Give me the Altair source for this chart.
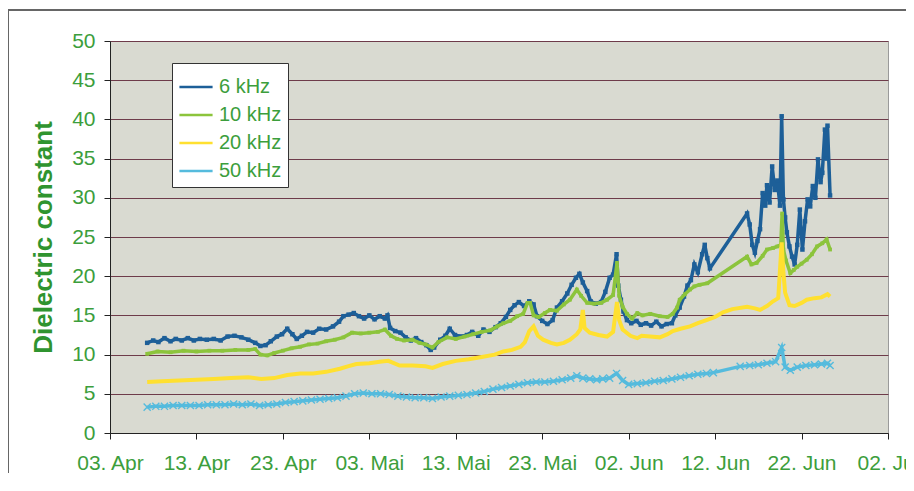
import altair as alt
import pandas as pd

# ---- data (x = days after 03. Apr) ----
series_names = ["6 kHz", "10 kHz", "20 kHz", "50 kHz"]
series_colors = ["#1d5f98", "#8cc43c", "#ffe030", "#55bbdd"]

x_tick_days = [0, 10, 20, 30, 40, 50, 60, 70, 80, 90]
x_tick_labels = ["03. Apr", "13. Apr", "23. Apr", "03. Mai", "13. Mai",
                 "23. Mai", "02. Jun", "12. Jun", "22. Jun", "02. Jul"]
y_ticks = [0, 5, 10, 15, 20, 25, 30, 35, 40, 45, 50]

days_6k = [4.3, 5.0, 5.6, 6.3, 7.0, 7.6, 8.3, 9.0, 9.7, 10.4, 11.2, 12.0, 12.8, 13.6, 14.4,
           15.2, 16.0, 16.8, 17.4, 18.0, 18.6, 19.3, 19.9, 20.5, 21.1, 21.6, 22.2, 22.8,
           23.5, 24.2, 25.0, 25.8, 26.5, 27.0, 27.6, 28.2, 28.8, 29.4, 30.0, 30.6, 31.2,
           31.8, 32.1, 32.4, 33.0, 33.6, 34.2, 34.8, 35.4, 36.0, 36.6, 37.1, 37.5, 38.2,
           38.8, 39.3, 39.9, 40.6, 41.3, 41.9, 42.6, 43.2, 43.9, 44.6, 45.2, 45.8, 46.3,
           46.8, 47.3, 47.9, 48.5, 49.0, 49.4, 50.0, 50.6, 51.2, 51.7, 52.3, 52.9, 53.4,
           53.9, 54.3, 54.7, 55.2, 55.6, 56.2, 56.8, 57.3, 57.8, 58.2, 58.6, 58.8, 59.1,
           59.4, 59.8, 60.3, 60.9, 61.4, 62.0, 62.6, 63.2, 63.8, 64.4, 65.0, 65.4, 65.9,
           66.4, 66.8, 67.2, 67.6, 68.0, 68.5, 68.8, 69.1, 69.4, 73.7, 74.0, 74.3, 74.6,
           74.9, 75.2, 75.5, 75.8, 76.0, 76.3, 76.6, 76.9, 77.2, 77.5, 77.7, 77.9, 78.1,
           78.3, 78.6, 78.9, 79.2, 79.5, 79.8, 80.1, 80.4, 80.7, 81.0, 81.3, 81.6, 81.9,
           82.2, 82.4, 82.7, 82.9, 83.0, 83.3]
vals_6k = [11.5, 11.8, 11.6, 12.1, 11.7, 12.0, 11.8, 12.1, 11.8, 12.0, 11.9, 12.0, 11.8, 12.3, 12.4,
           12.2, 11.9, 11.5, 11.1, 11.2, 11.7, 12.3, 12.6, 13.3, 12.6, 12.0, 12.4, 12.9,
           12.8, 13.3, 13.2, 13.6, 14.2, 14.9, 15.1, 15.3, 14.9, 14.6, 15.0, 14.5, 14.9,
           14.6, 15.0, 13.4, 13.0, 12.8, 12.2, 11.8, 12.1, 11.6, 11.2, 10.6, 10.9, 11.9,
           12.4, 13.3, 12.5, 12.3, 12.5, 12.9, 12.4, 13.2, 12.9, 13.5, 14.0, 14.8, 15.7,
           16.3, 16.7, 16.2, 16.8, 16.4, 14.9, 14.3, 13.9, 14.4, 16.0, 16.8, 17.8, 18.9,
           19.8, 20.3, 19.2, 18.1, 16.8, 16.5, 16.7, 18.0, 19.8, 20.2, 22.8, 18.8, 17.0,
           15.5, 14.4, 14.0, 14.3, 13.8, 14.0, 13.7, 14.2, 13.6, 13.9, 14.0, 15.0, 16.0,
           17.4, 18.8, 19.5, 21.5, 20.5, 22.8, 24.0, 22.3, 21.0, 28.0, 26.6, 24.0, 23.0,
           24.5, 26.0, 30.6, 29.0, 31.6, 29.4, 34.0, 31.0, 32.2, 29.0, 40.4, 29.8, 27.5,
           25.6, 23.8, 22.5, 21.5, 24.0, 28.5, 23.4, 27.0, 29.8, 28.9, 31.5, 30.0, 34.9,
           32.0, 33.2, 38.7, 35.0, 39.2, 30.3]

days_10k = [4.3, 5.5, 7.0, 8.5, 10.0, 11.5, 13.0, 14.5, 16.0, 16.8, 17.4, 18.2, 19.0, 20.0,
            21.0, 22.0, 23.0, 24.0, 25.0, 26.0, 27.0, 28.0, 29.0, 30.0, 31.0, 31.8, 32.5,
            33.2, 34.0, 35.0, 35.8, 36.5, 37.3, 38.0, 39.0, 40.0, 41.0, 42.0, 43.0, 44.0,
            44.8, 45.5, 46.3, 47.1, 47.8, 48.3, 48.6, 49.0, 49.6, 50.3, 50.9, 51.7, 52.5,
            53.2, 54.0, 54.5, 55.2, 56.0, 56.8, 57.5, 58.2, 58.65, 58.9, 59.3, 59.8, 60.4,
            61.0, 61.6, 62.5, 63.6, 64.5, 65.1, 65.6, 65.9, 66.5, 67.1, 67.6, 68.2, 69.1,
            73.7, 74.2, 74.8, 75.5, 76.0, 76.7, 77.2, 77.6, 77.75, 77.9, 78.2, 78.7, 79.1,
            79.5, 80.0, 80.6, 81.2, 81.8, 82.4, 82.9, 83.3]
vals_10k = [10.1, 10.4, 10.3, 10.5, 10.4, 10.5, 10.5, 10.6, 10.6, 10.7, 10.0, 9.9, 10.2, 10.5,
            10.8, 11.0, 11.3, 11.4, 11.7, 11.9, 12.2, 12.8, 12.7, 12.8, 12.9, 13.2, 12.4,
            12.0, 11.8, 11.9, 11.5, 11.3, 10.9, 11.6, 12.2, 12.0, 12.3, 12.6, 12.9, 13.1,
            13.6, 14.0, 14.3, 14.9, 15.2, 16.6, 16.6, 15.0, 14.8, 15.3, 15.7, 15.6, 16.4,
            17.0, 18.3, 17.5, 16.6, 16.5, 16.6, 17.0, 17.6, 21.7, 17.5, 16.1, 15.2, 14.6,
            15.3, 15.0, 15.2, 14.9, 14.8, 15.2, 16.0, 17.0, 17.7, 18.3, 18.7, 18.9, 19.1,
            22.5, 21.5, 21.7, 22.6, 23.4, 23.6, 23.8, 24.0, 28.0, 23.4, 22.0, 20.4, 20.8,
            21.2, 21.6, 22.1, 22.8, 23.8, 24.2, 24.7, 23.4]

days_20k = [4.3, 6.0, 8.0, 10.0, 12.0, 14.0, 16.0, 17.5, 19.0, 20.5, 22.0, 23.5, 25.0, 26.6,
            27.5, 28.5, 30.0, 31.2, 32.2, 33.5, 35.0, 36.5, 37.3, 38.5, 40.0, 41.5, 43.0,
            44.5, 45.5, 46.5, 47.5, 48.0, 48.5, 49.0, 49.5, 50.1, 51.0, 51.7, 52.5, 53.2,
            54.0, 54.4, 54.7, 54.9, 55.5, 56.5, 57.5, 58.2, 58.65, 58.9, 59.3, 60.2, 61.0,
            61.5, 62.5, 63.6, 64.5, 65.1, 66.0, 67.1, 68.0, 69.0, 70.0, 70.9, 72.0, 73.7,
            74.6, 75.2, 76.0, 76.7, 77.3, 77.7, 77.9, 78.1, 78.6, 79.2, 80.0, 80.6, 81.5,
            82.3, 83.0, 83.3]
vals_20k = [6.5, 6.6, 6.7, 6.8, 6.9, 7.0, 7.1, 6.9, 7.0, 7.4, 7.6, 7.6, 7.8, 8.2,
            8.5, 8.8, 8.9, 9.1, 9.2, 8.6, 8.6, 8.5, 8.3, 8.8, 9.2, 9.4, 9.7,
            10.0, 10.4, 10.6, 11.0, 11.6, 13.0, 13.6, 12.4, 11.9, 11.5, 11.3, 11.5, 11.9,
            12.6, 13.2, 15.7, 13.4, 12.8, 12.5, 12.3, 12.9, 16.7, 14.4, 13.2, 12.4, 12.1,
            12.4, 12.3, 12.2, 12.6, 13.0, 13.3, 13.6, 14.0, 14.4, 14.8, 15.4, 15.8, 16.1,
            15.9, 15.7, 16.2, 16.8, 17.2, 24.3, 20.5, 17.9, 16.3, 16.2, 16.6, 17.0, 17.2,
            17.3, 17.7, 17.4]

days_50k = [4.3, 5.3, 6.3, 7.3, 8.3, 9.3, 10.3, 11.3, 12.3, 13.3, 14.3, 15.3, 16.3, 17.3,
            18.3, 19.3, 20.3, 21.3, 22.3, 23.3, 24.3, 25.3, 26.3, 27.3, 28.3, 29.3, 30.3,
            31.3, 32.3, 33.3, 34.3, 35.3, 36.3, 37.3, 38.3, 39.3, 40.3, 41.3, 42.3, 43.3,
            44.3, 45.3, 46.3, 47.3, 48.3, 49.3, 50.3, 51.3, 52.3, 53.3, 54.0, 54.7, 55.5,
            56.3, 57.0, 57.8, 58.6, 59.3, 60.0, 61.0, 62.0, 63.0, 64.0, 65.0, 66.0, 67.0,
            68.0, 69.0, 69.8, 72.9, 74.0, 75.0, 76.0, 77.0, 77.7, 78.1, 78.7, 79.5, 80.5,
            81.5, 82.3, 83.0, 83.3]
vals_50k = [3.3, 3.4, 3.4, 3.5, 3.5, 3.5, 3.5, 3.6, 3.6, 3.6, 3.7, 3.6, 3.7, 3.5,
            3.6, 3.7, 3.9, 4.0, 4.1, 4.2, 4.3, 4.4, 4.5, 4.7, 5.0, 5.1, 5.0,
            5.0, 4.9, 4.7, 4.6, 4.5, 4.5, 4.4, 4.6, 4.7, 4.8, 4.9, 5.1, 5.3,
            5.6, 5.8, 6.0, 6.2, 6.4, 6.5, 6.5, 6.6, 6.8, 7.0, 7.3, 7.0, 6.9,
            6.8, 6.9, 7.0, 7.6, 6.7, 6.2, 6.3, 6.4, 6.6, 6.7, 6.9, 7.1, 7.3,
            7.5, 7.6, 7.7, 8.5, 8.6, 8.7, 8.9, 9.1, 10.9, 8.4, 8.0, 8.4, 8.6,
            8.7, 8.8, 8.9, 8.6]

# ---- build table ----
frames = []
for name, d, v in zip(series_names,
                      [days_6k, days_10k, days_20k, days_50k],
                      [vals_6k, vals_10k, vals_20k, vals_50k]):
    frames.append(pd.DataFrame({"day": d, "value": v, "series": name}))
df = pd.concat(frames, ignore_index=True)

GREEN = "#3c9e3c"
FONT = "Liberation Sans"

label_expr = "[" + ",".join("'" + s + "'" for s in x_tick_labels) + "][round(datum.value/10)]"

x_enc = alt.X("day:Q", scale=alt.Scale(domain=[0, 90], nice=False, zero=False),
              axis=alt.Axis(values=x_tick_days, labelExpr=label_expr, title=None,
                            grid=False, tickSize=6, tickColor="#222", domainColor="#222",
                            labelFontSize=21, labelColor=GREEN, labelFont=FONT,
                            labelPadding=13, labelOverlap=False, labelBound=False,
                            labelFlush=False))
y_enc = alt.Y("value:Q", scale=alt.Scale(domain=[0, 50], nice=False),
              axis=alt.Axis(values=y_ticks, title="Dielectric constant",
                            titleFontSize=26, titleFont=FONT, titleFontWeight="bold",
                            titleColor="#2f942f", titleX=-67, titleY=196,
                            titleAngle=270, titleAlign="center", titleBaseline="middle",
                            grid=True, gridColor="#6e3b4a", gridWidth=1,
                            tickSize=6, tickColor="#222", domainColor="#222",
                            labelFontSize=21, labelColor=GREEN, labelFont=FONT,
                            labelPadding=9))
color_enc = alt.Color("series:N",
                      scale=alt.Scale(domain=series_names, range=series_colors),
                      legend=alt.Legend(title=None, orient="none", legendX=62, legendY=22,
                                        fillColor="white", strokeColor="#333",
                                        padding=6, symbolType="stroke", symbolSize=1100,
                                        symbolStrokeWidth=2.5, labelFontSize=20,
                                        labelFont=FONT, labelColor=GREEN, rowPadding=-3,
                                        labelOffset=5))

base = alt.Chart(df)
layers = []
for name, w in zip(series_names, [3.5, 3.5, 4, 3.5]):
    layers.append(base.transform_filter(alt.datum.series == name)
                  .mark_line(strokeWidth=w, clip=True, strokeJoin="miter")
                  .encode(x=x_enc, y=y_enc, color=color_enc))

pts_6k = base.transform_filter(alt.datum.series == "6 kHz").mark_point(
    shape="square", filled=True, size=20, color="#1d5f98", opacity=1).encode(x=x_enc, y=y_enc)
pts_10k = base.transform_filter(alt.datum.series == "10 kHz").mark_point(
    shape="square", filled=True, size=14, color="#8cc43c", opacity=1).encode(x=x_enc, y=y_enc)
pts_50k = base.transform_filter(alt.datum.series == "50 kHz").mark_point(
    shape="M-1,-1L1,1M-1,1L1,-1", filled=False, size=50, strokeWidth=1.4,
    color="#55bbdd", opacity=1).encode(x=x_enc, y=y_enc)

frame_top = alt.Chart(df).mark_rule(color="#666", strokeWidth=1).encode(
    x=alt.value(-102), x2=alt.value(800), y=alt.value(-31))
frame_left = alt.Chart(df).mark_rule(color="#666", strokeWidth=1).encode(
    x=alt.value(-101.5), y=alt.value(-31), y2=alt.value(440))

chart = alt.layer(layers[0], pts_6k, layers[1], pts_10k, layers[2], layers[3], pts_50k,
                  frame_top, frame_left).properties(
    width=778, height=392,
    padding={"left": 102, "top": 33, "right": 18, "bottom": 40},
    autosize=alt.AutoSizeParams(type="none"),
    background="white",
).configure_view(fill="#d9dad1", stroke="#9a9a9a")

chart.save("out.html", embed_options={"renderer": "svg", "actions": False})
